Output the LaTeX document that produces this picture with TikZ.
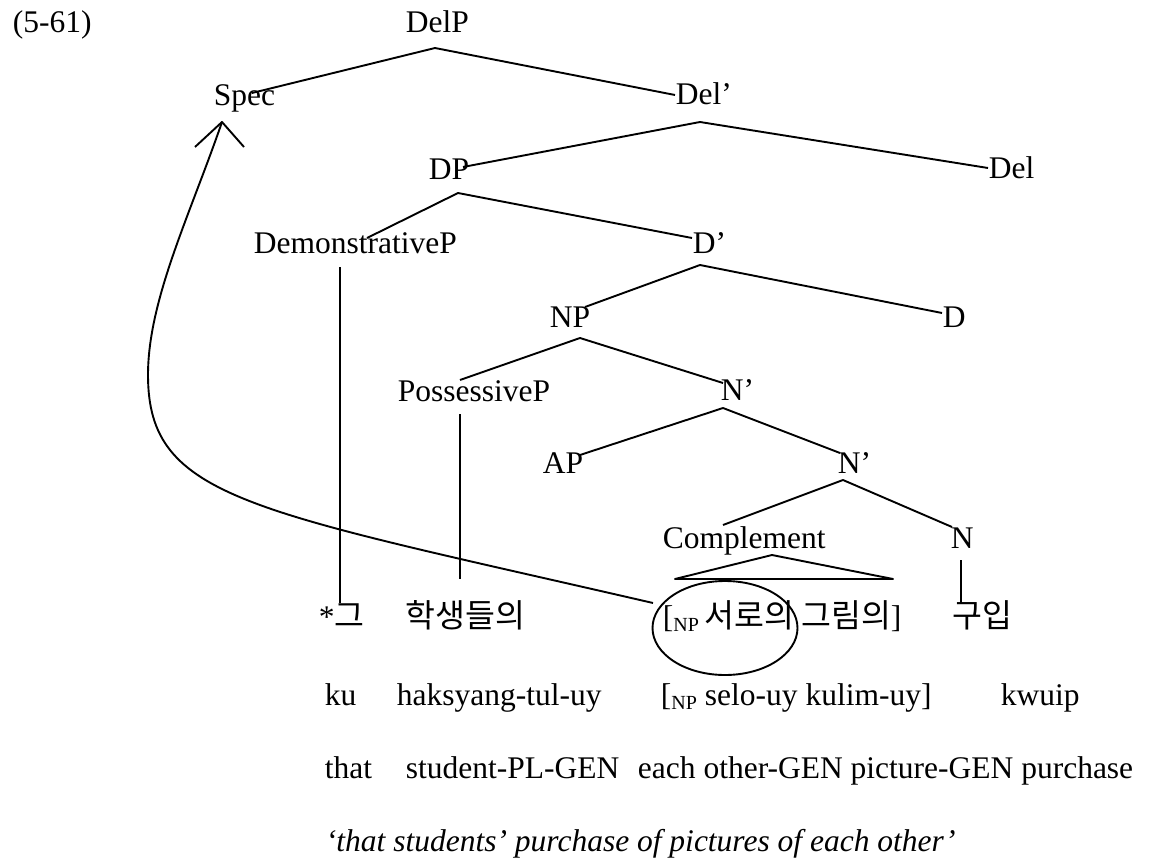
\documentclass[tikz,border=0pt]{standalone}
\usepackage{fontspec}
\setmainfont{Liberation Serif}
\newfontfamily\ko{Noto Sans CJK KR}
\usetikzlibrary{calc}
% Hangul in the example rows
\newcommand\kor[1]{{\ko\fontsize{32.5}{38}\selectfont #1}}
% lowered small label on a bracket
\newcommand\npsub{\raisebox{-4pt}{\fontsize{20}{24}\selectfont NP}}
\begin{document}
\begin{tikzpicture}[x=1pt,y=-1pt,line width=1.9pt,line join=round,
  lab/.style={inner sep=0pt,anchor=base west,font=\fontsize{31.5}{36}\selectfont}]
\useasboundingbox (0,0) rectangle (1156,861);

% example number
\node[lab] (ex) at (12,33) {(5-61)};

% tree labels
\node[lab] (DelP)  at (405,33)  {DelP};
\node[lab] (Spec)  at (213,106) {Spec};
\node[lab] (Delb)  at (675,105) {Del’};
\node[lab] (DP)    at (428,180) {DP};
\node[lab] (Del)   at (988,179) {Del};
\node[lab] (DemP)  at (253,253) {DemonstrativeP};
\node[lab] (Db)    at (692,253) {D’};
\node[lab] (NP)    at (549,327) {NP};
\node[lab] (D)     at (942,327) {D};
\node[lab] (PossP) at (397,401) {PossessiveP};
\node[lab] (Nb1)   at (720,400) {N’};
\node[lab] (AP)    at (542,473) {AP};
\node[lab] (Nb2)   at (837,473) {N’};
\node[lab] (Comp)  at (662,548) {Complement};
\node[lab] (N)     at (950,548) {N};

% Korean words
\node[lab] (k1) at (318,627) {*\kor{그}};
\node[lab] (k2) at (405,627) {\kor{학생들의}};
\node[lab] (k3) at (662,627) {[\npsub\,\kor{서로의 그림의}]};
\node[lab] (k4) at (952,627) {\kor{구입}};

% romanisation
\node[lab] (r1) at (324,705)  {ku};
\node[lab] (r2) at (396,705)  {haksyang-tul-uy};
\node[lab] (r3) at (660,705)  {[\npsub{} selo-uy kulim-uy]};
\node[lab] (r4) at (1000,705) {kwuip};

% gloss
\node[lab] (g1) at (324,778) {that};
\node[lab] (g2) at (405,778) {student-PL-GEN};
\node[lab] (g3) at (637,778) {each other-GEN picture-GEN purchase};

% translation
\node[lab] (tr) at (325,851) {\textit{‘that students’ purchase of pictures of each other’}};

% branches
\draw ($(Spec.base west)+(39,-13)$) -- ($(DelP.base west)+(30,15)$) -- ($(Delb.base west)+(0,-10)$);
\draw ($(DP.base west)+(35,-13)$) -- ($(Delb.base west)+(25,17)$) -- ($(Del.base west)+(0,-11)$);
\draw ($(DemP.base west)+(114,-15)$) -- ($(DP.base west)+(30,13)$) -- ($(Db.base west)+(0,-15)$);
\draw ($(NP.base west)+(36,-20)$) -- ($(Db.base west)+(8,12)$) -- ($(D.base west)+(0,-14)$);
\draw ($(PossP.base west)+(63,-21)$) -- ($(NP.base west)+(31,11)$) -- ($(Nb1.base west)+(3,-17)$);
\draw ($(AP.base west)+(38,-18)$) -- ($(Nb1.base west)+(3,8)$) -- ($(Nb2.base west)+(3,-20)$);
\draw ($(Comp.base west)+(61,-23)$) -- ($(Nb2.base west)+(6,7)$) -- ($(N.base west)+(2,-21)$);

% roof over the complement
\draw ($(Comp.base west)+(110,7)$) -- ($(k3.base west)+(13,-48)$) -- ($(k3.base west)+(231,-48)$) -- cycle;

% unary lines to the words
\draw ($(DemP.base west)+(87,14)$) -- ($(k1.base west)+(22,-24)$);
\draw ($(PossP.base west)+(63,13)$) -- ($(k2.base west)+(55,-48)$);
\draw ($(N.base west)+(11,12)$) -- ($(k4.base west)+(9,-24)$);

% movement to Spec
\draw ($(k3.base west)+(-9,-24)$) .. controls (250,510) and (148,500) .. (148,375)
      .. controls (148,300) and (190,215) .. ($(Spec.base west)+(9,16)$);
\draw ($(Spec.base west)+(-18,41)$) -- ($(Spec.base west)+(9,16)$) -- ($(Spec.base west)+(31,41)$);

% circled anaphor
\draw ($(k3.base west)+(63,1)$) ellipse [x radius=72.5pt, y radius=47pt];
\end{tikzpicture}
\end{document}
